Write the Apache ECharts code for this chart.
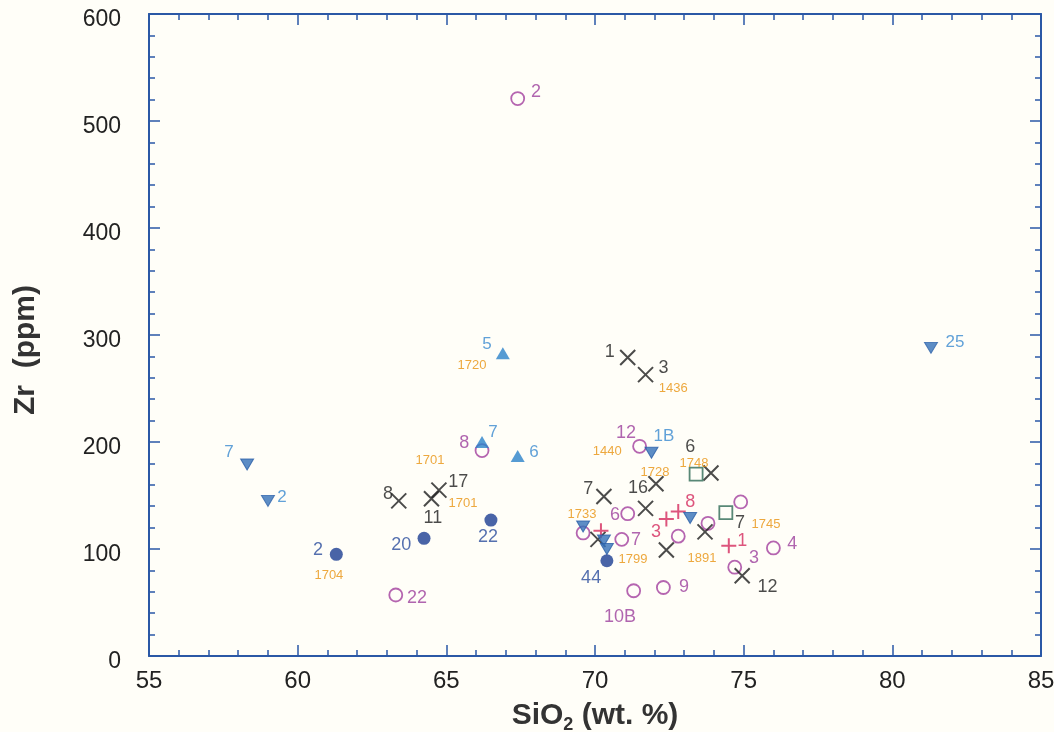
<!DOCTYPE html>
<html>
<head>
<meta charset="utf-8">
<script src="https://cdn.jsdelivr.net/npm/echarts@6/dist/echarts.min.js"></script>
<style>
  html, body { margin: 0; padding: 0; background: #fffef8; }
  #chart { width: 1054px; height: 732px; }
</style>
</head>
<body>
<div id="chart"></div>
<script>
// [SiO2, Zr] per symbol group
const openCircles = [
  [67.4, 521], [66.2, 192], [63.3, 57], [71.5, 196], [71.1, 133], [69.6, 115],
  [70.9, 109], [72.8, 112], [73.8, 124], [74.9, 144], [76.0, 101], [74.7, 83],
  [72.3, 64], [71.3, 61]
];
const crosses = [
  [63.4, 145], [64.5, 147], [64.75, 155], [71.1, 279], [71.7, 263], [73.9, 171],
  [72.05, 161], [70.3, 149], [71.7, 138], [70.1, 109], [72.4, 99], [73.7, 116],
  [74.95, 75]
];
const pluses = [[70.2, 117], [72.4, 128], [72.8, 135], [74.5, 103]];
const squares = [[73.4, 170], [74.4, 134]];
const downTriangles = [
  [58.3, 179], [59.0, 145], [81.3, 288], [71.9, 190], [73.2, 129], [69.6, 121],
  [70.3, 108], [70.4, 100]
];
const filledCircles = [[61.3, 95], [64.25, 110], [66.5, 127], [70.4, 89]];
const upTriangles = [[66.9, 283], [66.2, 200], [67.4, 187]];

// annotations: [SiO2, Zr, text]
const blackLabels = [
  [70.5, 284, '1'], [72.3, 269, '3'], [63.04, 151, '8'], [64.55, 129, '11'],
  [65.4, 163, '17'], [69.77, 156, '7'], [71.45, 157, '16'], [73.2, 195, '6'],
  [74.88, 124, '7'], [75.8, 64, '12']
];
const purpleLabels = [
  [68.02, 527, '2'], [65.6, 199, '8'], [64.01, 54, '22'], [71.04, 208, '12'],
  [70.67, 132, '6'], [71.38, 108, '7'], [75.35, 92, '3'], [76.63, 105, '4'],
  [72.99, 64, '9'], [70.84, 36, '10B']
];
const redLabels = [[72.05, 116, '3'], [73.2, 144, '8'], [74.95, 107, '1']];
const lightBlueLabels = [
  [57.69, 190, '7'], [59.47, 148, '2'], [82.11, 293, '25'], [66.37, 291, '5'],
  [66.57, 209, '7'], [67.95, 190, '6'], [72.32, 205, '1B']
];
const navyLabels = [[60.68, 99, '2'], [63.48, 104, '20'], [66.4, 111, '22'], [69.87, 73, '44']];
const yearLabels = [
  [61.05, 75, '1704'], [65.86, 272, '1720'], [64.45, 183, '1701'], [65.56, 143, '1701'],
  [72.63, 250, '1436'], [70.41, 191, '1440'], [72.02, 172, '1728'], [73.33, 180, '1748'],
  [69.56, 132, '1733'], [71.28, 90, '1799'], [73.6, 91, '1891'], [75.75, 123, '1745']
];

const xTicks = { min: 55, max: 85, interval: 5 };
const yTicks = { min: 0, max: 600, interval: 100 };

const frame = '#2b58a6';
const font = 'Liberation Sans, Arial, sans-serif';

function axisCommon(showLabels) {
  return {
    axisLine: { show: true, onZero: false, lineStyle: { color: frame, width: 2 } },
    axisTick: { show: true, inside: true, length: 11, lineStyle: { color: frame, width: 1.5 } },
    minorTick: { show: true, splitNumber: 5, length: 6, lineStyle: { color: frame, width: 1.5 } },
    splitLine: { show: false },
    axisLabel: { show: showLabels, color: '#222', fontFamily: font }
  };
}

function textSeries(data, color, size) {
  return {
    type: 'scatter',
    symbolSize: 0,
    silent: true,
    data: data,
    label: {
      show: true,
      position: 'inside',
      formatter: (p) => p.value[2],
      color: color,
      fontFamily: font,
      fontSize: size
    },
    z: 5
  };
}

const chart = echarts.init(document.getElementById('chart'));

const xBottom = axisCommon(true);
xBottom.axisLabel.fontSize = 24;
xBottom.axisLabel.margin = 13;
const yLeft = axisCommon(true);
yLeft.axisLabel.margin = 28;
yLeft.axisLabel.formatter = (v) => '{t|' + v + '}';
yLeft.axisLabel.rich = { t: { fontSize: 23, fontFamily: font, color: '#222', padding: [12, 0, 0, 0] } };

const option = {
  backgroundColor: '#fffef8',
  animation: false,
  grid: { left: 149, right: 13, top: 14, bottom: 76, outerBoundsMode: 'none', containLabel: false },
  xAxis: [
    Object.assign(xBottom, {
      type: 'value', position: 'bottom', min: xTicks.min, max: xTicks.max, interval: xTicks.interval,
      name: '{b|SiO}{s|2}{b| (wt. %)}',
      nameLocation: 'middle',
      nameGap: 45,
      nameTextStyle: {
        rich: {
          b: { fontFamily: font, fontSize: 30, fontWeight: 'bold', color: '#333', verticalAlign: 'top', lineHeight: 30 },
          s: { fontFamily: font, fontSize: 18, fontWeight: 'bold', color: '#333', verticalAlign: 'top', lineHeight: 30, padding: [15, 0, 0, 0] }
        }
      }
    }),
    Object.assign(axisCommon(false), {
      type: 'value', position: 'top', min: xTicks.min, max: xTicks.max, interval: xTicks.interval
    })
  ],
  yAxis: [
    Object.assign(yLeft, {
      type: 'value', position: 'left', min: yTicks.min, max: yTicks.max, interval: yTicks.interval,
      name: 'Zr  (ppm)',
      nameLocation: 'middle',
      nameGap: 108,
      nameTextStyle: { fontFamily: font, fontSize: 30, fontWeight: 'bold', color: '#333', padding: [0, 30, 0, 0] }
    }),
    Object.assign(axisCommon(false), {
      type: 'value', position: 'right', min: yTicks.min, max: yTicks.max, interval: yTicks.interval
    })
  ],
  series: [
    {
      type: 'scatter', data: openCircles, symbol: 'circle', symbolSize: 13,
      itemStyle: { color: 'rgba(0,0,0,0)', borderColor: '#a23f9e', borderWidth: 1.8 }
    },
    {
      type: 'scatter', data: crosses, symbol: 'path://M0,0L10,10M10,0L0,10', symbolSize: 15,
      itemStyle: { color: 'rgba(0,0,0,0)', borderColor: '#1e1e1e', borderWidth: 2 }
    },
    {
      type: 'scatter', data: pluses, symbol: 'path://M5,0L5,10M0,5L10,5', symbolSize: 15,
      itemStyle: { color: 'rgba(0,0,0,0)', borderColor: '#d42a5e', borderWidth: 2 }
    },
    {
      type: 'scatter', data: squares, symbol: 'rect', symbolSize: 13,
      itemStyle: { color: 'rgba(0,0,0,0)', borderColor: '#2e6a55', borderWidth: 1.8 }
    },
    {
      type: 'scatter', data: downTriangles, symbol: 'triangle', symbolRotate: 180, symbolSize: [13, 11],
      itemStyle: { color: '#3570b8', borderColor: '#2a5fa8', borderWidth: 1 }
    },
    {
      type: 'scatter', data: filledCircles, symbol: 'circle', symbolSize: 13,
      itemStyle: { color: '#1c3d92' }
    },
    {
      type: 'scatter', data: upTriangles, symbol: 'triangle', symbolSize: [14, 12],
      itemStyle: { color: '#2c82c9' }
    },
    textSeries(blackLabels, '#1e1e1e', 18),
    textSeries(purpleLabels, '#9c3f9c', 18),
    textSeries(redLabels, '#d42a5e', 18),
    textSeries(lightBlueLabels, '#3a8ad0', 17),
    textSeries(navyLabels, '#2a4c9c', 18),
    textSeries(yearLabels, '#e8920f', 13)
  ]
};

chart.setOption(option);
</script>
</body>
</html>
